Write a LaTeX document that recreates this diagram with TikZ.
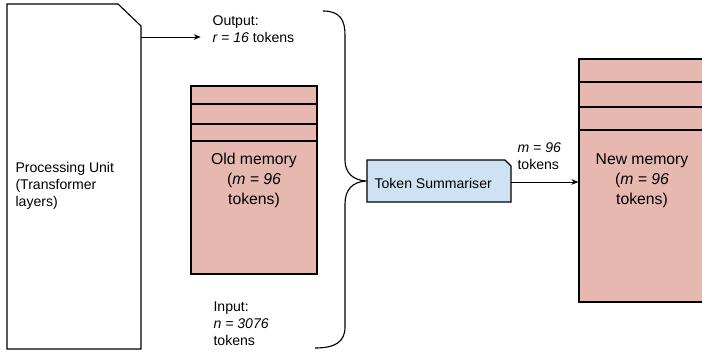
\documentclass[tikz,border=0pt]{standalone}
\usepackage{fontspec}
\setmainfont{Liberation Sans}
\usetikzlibrary{arrows.meta, positioning}

\definecolor{memred}{HTML}{E6B8AF}
\definecolor{sumblue}{HTML}{CFE2F3}

\begin{document}
\begin{tikzpicture}[x=0.025cm, y=-0.025cm, line width=0.8pt,
  font=\fontsize{10}{12.1}\selectfont,
  mem/.style={draw, fill=memred, align=center, minimum width=3.15cm,
    font=\fontsize{11.2}{14.2}\selectfont},
  lbl/.style={align=left, inner sep=0pt, anchor=west},
  link/.style={-{Stealth[length=5pt,width=4pt]}, line width=0.6pt}]

\useasboundingbox (0,0) rectangle (702,352);

% Processing unit (cut corner block)
\draw[fill=white] (7,4) -- (118,4) -- (141,26) -- (141,349) -- (7,349) -- cycle;
\node[lbl] (proc) at (15,186) {Processing Unit\\(Transformer\\layers)};
\coordinate (procout) at (141,37);

% Output label
\node[lbl] (out) at (212,29) {Output:\\\textit{r = 16} tokens};
\draw[link, shorten >=8pt] (procout) -- (procout -| out.west);

% Old memory
\node[mem, minimum height=4.7cm] (oldmem) at (254,180) {Old memory\\(\textit{m = 96}\\tokens)};
\foreach \y in {104,124,141}
  \draw (oldmem.west |- 0,\y) -- (oldmem.east |- 0,\y);

% Input label
\node[lbl] (in) at (213,324) {Input:\\\textit{n = 3076}\\tokens};

% Brace
\coordinate (tip) at (366,181);
\draw (323,11) .. controls (340,11) and (345,20) .. (345,35) -- (345,160)
  .. controls (345,172) and (352,180) .. (tip)
  .. controls (352,182) and (345,190) .. (345,204) -- (345,327)
  .. controls (345,342) and (335,348) .. (315,348);

% Token summariser
\draw[fill=sumblue] (367,160) -- (505,160) -- (511,166) -- (511,202) -- (367,202) -- cycle;
\node[lbl] (sum) at (374,183) {Token Summariser};
\coordinate (sumout) at (511,182);

% New memory
\node[mem, minimum height=6.075cm] (newmem) at (642,180.5) {New memory\\(\textit{m = 96}\\tokens)};
\foreach \y in {82,107,130}
  \draw (newmem.west |- 0,\y) -- (newmem.east |- 0,\y);

\node[lbl] (mout) at (517,156) {\textit{m = 96}\\tokens};
\draw[link] (sumout) -- (sumout -| newmem.west);

\end{tikzpicture}
\end{document}
